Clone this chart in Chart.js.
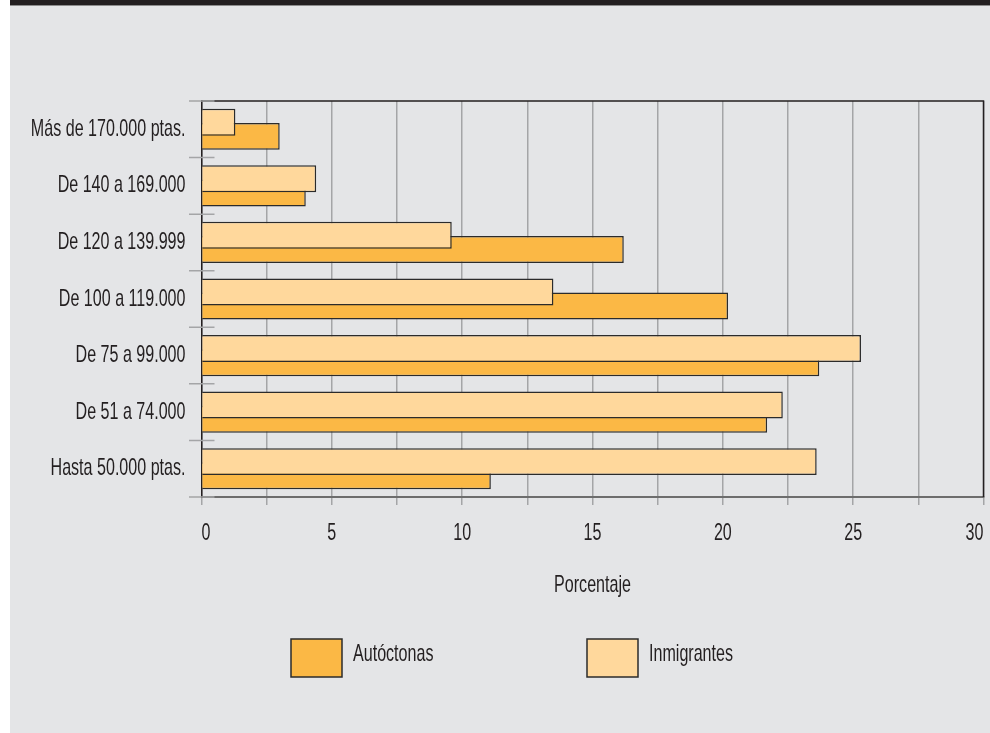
<!DOCTYPE html>
<html>
<head>
<meta charset="utf-8">
<title>Porcentaje por ingresos</title>
<script src="https://cdn.jsdelivr.net/npm/chart.js@4/dist/chart.umd.min.js"></script>
<style>
    body { margin: 0; background: #fff; }
    #chart1 { display: block; }
</style>
</head>
<body>
<canvas id="chart1" width="990" height="733"></canvas>
<script>
// data
const categories = ["Más de 170.000 ptas.", "De 140 a 169.000", "De 120 a 139.999", "De 100 a 119.000", "De 75 a 99.000", "De 51 a 74.000", "Hasta 50.000 ptas."];
const inmigrantes = [1.3, 4.4, 9.6, 13.5, 25.3, 22.3, 23.6];
const autoctonas = [3.0, 4.0, 16.2, 20.2, 23.7, 21.7, 11.1];
const xTickLabels = [0, 5, 10, 15, 20, 25, 30];

const textColor = "#231f20";
const gridColor = "#a4a5a7";
const fontFamily = "'Liberation Sans', Arial, sans-serif";
const labelFont = { family: fontFamily, size: 24 };
// no condensed face installed, so squeeze the text horizontally
const textSqueeze = 0.67;

/* every fillText on this canvas gets drawn narrow (like the condensed face of the original) */
const narrowTextPlugin = {
    id: "narrowText",
    beforeInit(chart) {
        let ctx = chart.ctx;
        let plainFillText = ctx.fillText.bind(ctx);
        ctx.fillText = function(text, x, y, maxWidth) {
            ctx.save();
            ctx.translate(x, y);
            ctx.scale(textSqueeze, 1);
            if (maxWidth === undefined) {
                plainFillText(text, 0, 0);
            } else {
                plainFillText(text, 0, 0, maxWidth / textSqueeze);
            }
            ctx.restore();
        };
    }
};

/* background panel + dark top strip */
const panelPlugin = {
    id: "panel",
    beforeDraw(chart) {
        let ctx = chart.ctx;
        ctx.save();
        ctx.fillStyle = "#ffffff";
        ctx.fillRect(0, 0, chart.width, chart.height);
        ctx.fillStyle = "#e4e5e7";
        ctx.fillRect(10, 6, chart.width - 10, chart.height - 6);
        ctx.fillStyle = "#231f20";
        ctx.fillRect(10, 0, chart.width - 10, 5);
        ctx.fillStyle = "#8c8c8c";
        ctx.fillRect(10, 5, chart.width - 10, 1);
        ctx.restore();
    }
};

/* top/right frame, category stubs and the big-box legend */
const framePlugin = {
    id: "frame",
    afterDatasetsDraw(chart) {
        let ctx = chart.ctx;
        let area = chart.chartArea;
        let y = chart.scales.y;
        let band = y.getPixelForValue(1) - y.getPixelForValue(0);

        ctx.save();
        ctx.strokeStyle = textColor;
        ctx.lineWidth = 1.5;
        ctx.beginPath();
        ctx.moveTo(area.left, area.top);
        ctx.lineTo(area.right, area.top);
        ctx.lineTo(area.right, area.bottom);
        ctx.stroke();

        ctx.strokeStyle = gridColor;
        ctx.beginPath();
        for (let i = 0; i <= categories.length; i++) {
            let py = y.getPixelForValue(i) - band / 2;
            ctx.moveTo(area.left - 12.5, py);
            ctx.lineTo(area.left + 13, py);
        }
        ctx.stroke();
        ctx.restore();
    },
    afterDraw(chart) {
        let ctx = chart.ctx;
        let items = [
            { ds: chart.data.datasets[1], x: 291 },
            { ds: chart.data.datasets[0], x: 587 }
        ];
        ctx.save();
        ctx.font = "24px " + fontFamily;
        ctx.textBaseline = "middle";
        ctx.textAlign = "left";
        items.forEach(function(item) {
            ctx.fillStyle = item.ds.backgroundColor;
            ctx.fillRect(item.x, 639, 51, 38);
            ctx.strokeStyle = "#2b2b2b";
            ctx.lineWidth = 1.5;
            ctx.strokeRect(item.x, 639, 51, 38);
            ctx.fillStyle = textColor;
            ctx.fillText(item.ds.label, item.x + 62, 654);
        });
        ctx.restore();
    }
};

new Chart(document.getElementById("chart1"), {
    type: "bar",
    data: {
        labels: categories,
        datasets: [{
            label: "Inmigrantes",
            data: inmigrantes,
            backgroundColor: "#ffd89c",
            borderColor: "#2b2b2b",
            borderWidth: 1.5,
            categoryPercentage: 0.502,
            barPercentage: 1.9
        }, {
            label: "Autóctonas",
            data: autoctonas,
            backgroundColor: "#fbb845",
            borderColor: "#2b2b2b",
            borderWidth: 1.5,
            categoryPercentage: 0.502,
            barPercentage: 1.9
        }]
    },
    options: {
        indexAxis: "y",
        responsive: false,
        animation: false,
        devicePixelRatio: 1,
        layout: {
            padding: { top: 101, right: 6.5, left: 0, bottom: 0 }
        },
        plugins: {
            legend: { display: false },
            tooltip: { enabled: false }
        },
        scales: {
            x: {
                min: 0,
                max: 30,
                afterFit: function(scale) {
                    scale.height = 236;
                    scale.paddingLeft = 0;
                    scale.paddingRight = 0;
                },
                ticks: {
                    stepSize: 2.5,
                    align: "inner",
                    color: textColor,
                    font: labelFont,
                    padding: 14,
                    maxRotation: 0,
                    autoSkip: false,
                    callback: function(v) {
                        return xTickLabels.includes(v) ? String(v) : "";
                    }
                },
                grid: {
                    color: gridColor,
                    lineWidth: 1.5,
                    tickLength: 8,
                    tickColor: gridColor
                },
                border: { color: "#6d6d6d", width: 2 },
                title: {
                    display: true,
                    text: "Porcentaje",
                    color: textColor,
                    font: labelFont,
                    padding: { top: 0, bottom: 133 }
                }
            },
            y: {
                type: "category",
                offset: true,
                afterFit: function(scale) {
                    scale.width = 201.5;
                    scale.paddingTop = 0;
                    scale.paddingBottom = 0;
                },
                ticks: {
                    color: textColor,
                    font: labelFont,
                    padding: 16,
                    autoSkip: false
                },
                grid: { display: false, drawTicks: false },
                border: { color: textColor, width: 1.5 }
            }
        }
    },
    plugins: [narrowTextPlugin, panelPlugin, framePlugin]
});
console.log("Chart1 created");
</script>
</body>
</html>
